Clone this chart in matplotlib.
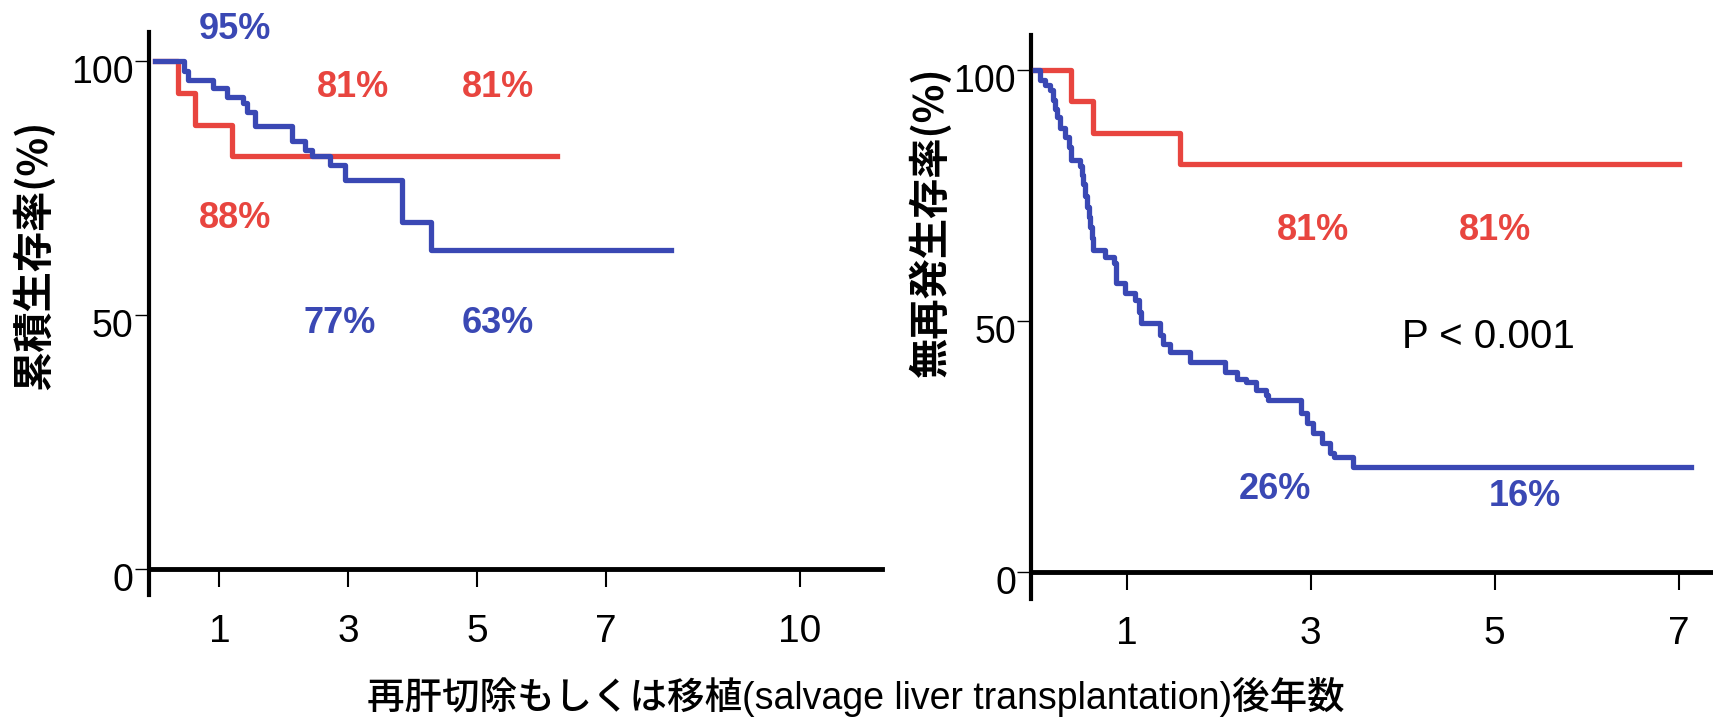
import matplotlib.pyplot as plt
from matplotlib.transforms import ScaledTranslation

plt.rcParams['font.family'] = ['Liberation Sans', 'Noto Sans CJK JP', 'DejaVu Sans']

RED = '#e8453f'
BLUE = '#3a48b4'

# 累積生存率 (overall survival), years vs %
os_red_t = [0.0, 0.36, 0.62, 1.20, 6.23]
os_red_s = [100, 93.8, 87.5, 81.3, 81.3]
os_blue_t = [0.0, 0.455, 0.51, 0.905, 1.11, 1.37, 1.42, 1.55, 2.12, 2.33, 2.43,
             2.72, 2.95, 3.83, 4.28, 8.0]
os_blue_s = [100, 98.2, 96.3, 94.7, 93.1, 91.8, 90.1, 87.3, 84.4, 82.6, 81.4,
             79.6, 76.7, 68.4, 62.9, 62.9]

# 無再発生存率 (recurrence-free survival)
rfs_red_t = [0.0, 0.40, 0.64, 1.58, 7.0]
rfs_red_s = [100, 93.8, 87.5, 81.3, 81.3]
rfs_blue_t = [0.0, 0.06, 0.11, 0.17, 0.20, 0.22, 0.24, 0.28, 0.33, 0.37, 0.40,
              0.49, 0.51, 0.53, 0.55, 0.57, 0.59, 0.60, 0.62, 0.64, 0.77, 0.86,
              0.88, 0.89, 0.98, 1.09, 1.13, 1.16, 1.36, 1.40, 1.47, 1.69, 2.07,
              2.20, 2.30, 2.41, 2.52, 2.54, 2.90, 2.96, 3.03, 3.12, 3.21, 3.25,
              3.46, 7.13]
rfs_blue_s = [100, 98.0, 97.0, 96.0, 94.0, 92.3, 90.7, 88.4, 86.7, 84.7, 82.1,
              81.0, 79.2, 77.4, 75.0, 72.8, 70.8, 68.8, 66.5, 64.1, 62.8, 61.5,
              59.5, 57.5, 55.5, 54.2, 51.8, 49.5, 47.3, 45.5, 43.9, 41.9, 39.9,
              38.5, 37.9, 36.2, 35.2, 34.2, 31.6, 29.6, 27.6, 25.6, 23.6, 22.9,
              20.9, 20.9]

# survival rates printed on each panel
os_pct = ['95%', '81%', '81%', '88%', '77%', '63%']
os_pct_color = [BLUE, RED, RED, RED, BLUE, BLUE]
os_pct_x = [1.24, 3.07, 5.32, 1.24, 2.87, 5.32]
os_pct_y = [106.2, 94.8, 94.8, 69.0, 48.5, 48.5]

rfs_pct = ['81%', '81%', '26%', '16%']
rfs_pct_color = [RED, RED, BLUE, BLUE]
rfs_pct_x = [3.03, 5.00, 2.61, 5.33]
rfs_pct_y = [68.1, 68.1, 16.3, 15.1]

os_xticks = [1, 3, 5, 7, 10]
rfs_xticks = [1, 3, 5, 7]

jp = ['Noto Sans CJK JP', 'DejaVu Sans']

fig = plt.figure(figsize=(17.13, 7.23), dpi=100)
ax1 = fig.add_axes([0.0870, 0.1770, 0.4279, 0.7787])
ax2 = fig.add_axes([0.6021, 0.1715, 0.3979, 0.7806])


def setup(ax, xlim, ylim, xticks):
    ax.set_xlim(*xlim)
    ax.set_ylim(*ylim)
    ax.spines['top'].set_visible(False)
    ax.spines['right'].set_visible(False)
    ax.spines['bottom'].set_position(('data', 0))
    ax.spines['left'].set_linewidth(3)
    ax.spines['bottom'].set_linewidth(3.5)
    ax.set_xticks(xticks)
    ax.set_yticks([0, 50, 100])
    ax.tick_params(axis='x', direction='out', length=13, width=1.5, pad=19,
                   labelsize=28)
    ax.tick_params(axis='y', direction='out', length=10, width=1.0, pad=1,
                   labelsize=27)
    # y labels sit a little below their ticks
    shift = ScaledTranslation(0, -8 / 100, fig.dpi_scale_trans)
    for lbl in ax.get_yticklabels():
        lbl.set_transform(lbl.get_transform() + shift)


setup(ax1, (-0.093, 11.28), (-5.04, 105.8), os_xticks)
setup(ax2, (-0.035, 7.374), (-5.44, 107.1), rfs_xticks)

ax1.step(os_red_t, os_red_s, where='post', color=RED, lw=3.8, zorder=3)
ax1.step(os_blue_t, os_blue_s, where='post', color=BLUE, lw=3.8, zorder=4)
ax2.step(rfs_red_t, rfs_red_s, where='post', color=RED, lw=3.8, zorder=3)
ax2.step(rfs_blue_t, rfs_blue_s, where='post', color=BLUE, lw=3.8, zorder=4)

for txt, c, x, y in zip(os_pct, os_pct_color, os_pct_x, os_pct_y):
    ax1.text(x, y, txt, color=c, fontsize=26, fontweight='bold',
             ha='center', va='center', clip_on=False)
for txt, c, x, y in zip(rfs_pct, rfs_pct_color, rfs_pct_x, rfs_pct_y):
    ax2.text(x, y, txt, color=c, fontsize=26, fontweight='bold',
             ha='center', va='center', clip_on=False)

ax2.text(4.93, 46.9, 'P < 0.001', color='black', fontsize=29,
         ha='center', va='center')

fig.text(34 / 1713, 1 - 255 / 723, '累積生存率(%)', rotation=90, ha='center',
         va='center', fontsize=29, fontweight='bold', family=jp)
fig.text(931 / 1713, 1 - 222 / 723, '無再発生存率(%)', rotation=90, ha='center',
         va='center', fontsize=29, fontweight='bold', family=jp)
fig.text(856 / 1713, 1 - 697 / 723,
         '再肝切除もしくは移植(salvage liver transplantation)後年数',
         ha='center', va='center', fontsize=27, fontweight='medium',
         family=['Liberation Sans', 'Noto Sans CJK JP'])

fig.savefig('out.png', dpi=100)
